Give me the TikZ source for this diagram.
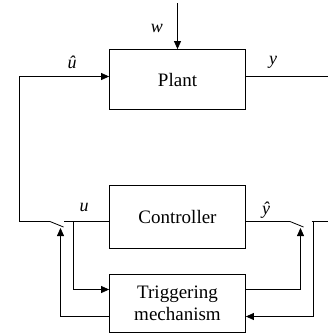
\documentclass[tikz,border=0pt]{standalone}
\usepackage{fontspec}
\setmainfont{Liberation Serif}
\usetikzlibrary{arrows.meta}
\begin{document}
\begin{tikzpicture}[x=1pt,y=-1pt, line width=0.8pt,
  blk/.style={draw, minimum width=136pt, inner sep=0pt, font=\fontsize{19}{22}\selectfont, align=center},
  lbl/.style={font=\fontsize{18}{20}\selectfont\itshape},
  arr/.style={-{Triangle[length=8pt,width=7pt]}}]
\useasboundingbox (0,0) rectangle (328,335);
% blocks
\node[blk, minimum height=60pt] (plant) at (177.5,79.5) {Plant};
\node[blk, minimum height=63pt] (ctrl) at (177.5,217) {Controller};
\node[blk, minimum height=58pt] (trig) at (177.5,303.5) {Triggering\\mechanism};
% coordinates
\coordinate (wtop) at (177.5,3);
\coordinate (uhL) at (19.5,76.5);
\coordinate (swLfar) at (19.5,221.5);
\coordinate (swLa) at (50,221.5);
\coordinate (swLb) at (63.5,227);
\coordinate (swLc) at (64,221.5);
\coordinate (br) at (73.5,221.5);
\coordinate (trigInL) at (73.5,289.5);
\coordinate (tlo) at (60.5,316.5);
\coordinate (swLtip) at (60.5,228);
\coordinate (swRa) at (290,221.5);
\coordinate (swRb) at (303.5,227);
\coordinate (swRc) at (311.5,221.5);
\coordinate (redge) at (328,221.5);
\coordinate (rv) at (313.5,221.5);
\coordinate (rvb) at (313.5,316.5);
\coordinate (tro) at (300.5,289.5);
\coordinate (swRtip) at (300.5,228);
\coordinate (yline) at (328,76.5);
% connectors
\draw[arr] (wtop) -- (plant.north);
\draw[arr] (swLa) -- (swLfar) -- (uhL) -- (uhL -| plant.west);
\draw (swLa) -- (swLb);
\draw (swLc) -- (swLc -| ctrl.west);
\draw[arr] (br) -- (trigInL) -- (trigInL -| trig.west);
\draw[arr] (tlo -| trig.west) -- (tlo) -- (swLtip);
\draw (swRa -| ctrl.east) -- (swRa) -- (swRb);
\draw (swRc) -- (redge);
\draw[arr] (rv) -- (rvb) -- (rvb -| trig.east);
\draw[arr] (tro -| trig.east) -- (tro) -- (swRtip);
\draw (plant.east |- yline) -- (yline);
% labels
\node[lbl] (lw) at (157,28) {w};
\node[lbl] (luh) at (72,62) {û};
\node[lbl] (lu) at (84,207) {u};
\node[lbl] (ly) at (273,62) {y};
\node[lbl] (lyh) at (266,210) {ŷ};
\end{tikzpicture}
\end{document}
